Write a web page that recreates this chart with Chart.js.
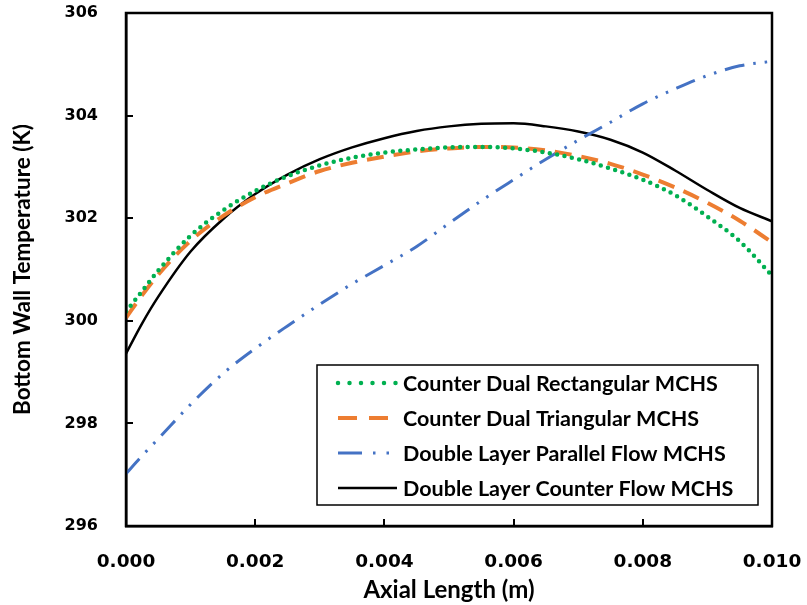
<!DOCTYPE html>
<html>
<head>
<meta charset="utf-8">
<script src="https://cdn.jsdelivr.net/npm/chart.js@4.4.1/dist/chart.umd.min.js"></script>
<style>
  html, body { margin: 0; padding: 0; background: #fff; }
  #wrap { width: 807px; height: 605px; }
</style>
</head>
<body>
<div id="wrap"><canvas id="tempChart" width="807" height="605"></canvas></div>
<script>
// axial positions (m)
const axialLength = [0, 0.00025, 0.0005, 0.001, 0.0015, 0.002, 0.0025, 0.003, 0.0035, 0.004, 0.0045,
    0.005, 0.0055, 0.006, 0.0065, 0.007, 0.0075, 0.008, 0.0085, 0.009, 0.0095, 0.010];

// bottom wall temperature (K)
const dualRect = [300.18, 300.58, 300.98, 301.66, 302.15, 302.53, 302.82, 303.03, 303.18, 303.28, 303.34,
    303.38, 303.39, 303.36, 303.28, 303.15, 302.97, 302.75, 302.45, 302.03, 301.55, 300.88];
const dualTri = [300.06, 300.5, 300.9, 301.56, 302.04, 302.41, 302.68, 302.92, 303.08, 303.2, 303.3,
    303.36, 303.39, 303.38, 303.32, 303.21, 303.06, 302.85, 302.6, 302.3, 301.95, 301.53];
const parallelFlow = [297.02, 297.37, 297.7, 298.37, 298.97, 299.46, 299.9, 300.32, 300.72, 301.08, 301.45,
    301.9, 302.34, 302.75, 303.15, 303.52, 303.87, 304.23, 304.52, 304.78, 304.97, 305.06];
const counterFlow = [299.36, 299.95, 300.47, 301.35, 301.98, 302.47, 302.85, 303.15, 303.38, 303.56, 303.7,
    303.79, 303.84, 303.85, 303.79, 303.69, 303.53, 303.28, 302.93, 302.55, 302.2, 301.94];

const seriesNames = ["Counter Dual Rectangular MCHS", "Counter Dual Triangular MCHS",
    "Double Layer Parallel Flow MCHS", "Double Layer Counter Flow MCHS"];
const xTicks = [0, 0.002, 0.004, 0.006, 0.008, 0.010];
const yTicks = [296, 298, 300, 302, 304, 306];

const pts = vals => vals.map((v, i) => ({ x: axialLength[i], y: v }));

const styles = [
    { color: "#00b050", width: 4.5, dash: [0, 7.5], legendDash: [0, 11.5], cap: "round" },
    { color: "#ed7d31", width: 4, dash: [17, 10], legendDash: [19, 12], cap: "butt" },
    { color: "#4472c4", width: 3, dash: [20, 9, 2.5, 9, 2.5, 9], legendDash: [24, 11, 2.5, 11, 2.5, 11], cap: "butt" },
    { color: "#000000", width: 2.5, dash: [], legendDash: [], cap: "butt" }
];
const allValues = [dualRect, dualTri, parallelFlow, counterFlow];

const datasets = allValues.map((vals, i) => ({
    label: seriesNames[i],
    data: pts(vals),
    showLine: true,
    borderColor: styles[i].color,
    borderWidth: styles[i].width,
    borderDash: styles[i].dash,
    borderCapStyle: styles[i].cap,
    pointRadius: 0,
    cubicInterpolationMode: "monotone",
    fill: false
}));

const frameAndLegend = {
    id: "frameAndLegend",
    afterDraw(chart) {
        const ctx = chart.ctx;
        const a = chart.chartArea;
        const xs = chart.scales.x, ys = chart.scales.y;
        ctx.save();
        // inward ticks
        ctx.strokeStyle = "#000";
        ctx.lineWidth = 2;
        xTicks.forEach(t => {
            const px = Math.round(xs.getPixelForValue(t));
            ctx.beginPath(); ctx.moveTo(px, a.bottom); ctx.lineTo(px, a.bottom - 7); ctx.stroke();
        });
        yTicks.forEach(t => {
            const py = Math.round(ys.getPixelForValue(t));
            ctx.beginPath(); ctx.moveTo(a.left, py); ctx.lineTo(a.left + 7, py); ctx.stroke();
        });
        // frame
        ctx.lineWidth = 2.5;
        ctx.strokeRect(a.left, a.top, a.right - a.left, a.bottom - a.top);

        // legend box
        const bx = a.right - 455, by = a.bottom - 161, bw = 441, bh = 140;
        ctx.fillStyle = "#fff";
        ctx.fillRect(bx, by, bw, bh);
        ctx.lineWidth = 1.5;
        ctx.strokeRect(bx, by, bw, bh);
        ctx.font = "bold 21.5px Lato";
        ctx.textBaseline = "middle";
        seriesNames.forEach((name, i) => {
            const s = styles[i];
            const ry = by + 18 + i * 35;
            ctx.strokeStyle = s.color;
            ctx.lineWidth = s.width;
            ctx.setLineDash(s.legendDash);
            ctx.lineCap = s.cap;
            ctx.beginPath(); ctx.moveTo(bx + 21, ry); ctx.lineTo(bx + 80, ry); ctx.stroke();
            ctx.setLineDash([]);
            ctx.fillStyle = "#000";
            ctx.fillText(name, bx + 86, ry + 1);
        });
        ctx.restore();
    }
};

new Chart(document.getElementById("tempChart"), {
    type: "scatter",
    data: { datasets },
    options: {
        responsive: false,
        animation: false,
        layout: { padding: { top: 13, right: 35, left: 0, bottom: 0 } },
        plugins: { legend: { display: false }, tooltip: { enabled: false } },
        scales: {
            x: {
                type: "linear",
                min: 0, max: 0.010,
                grid: { display: false },
                border: { display: true, color: "#000", width: 2.5 },
                afterBuildTicks: s => { s.ticks = xTicks.map(v => ({ value: v })); },
                afterFit: s => { s.height = 79; s.paddingLeft = 0; s.paddingRight = 0; },
                ticks: {
                    padding: 17,
                    color: "#000",
                    font: { family: "DejaVu Sans", weight: "bold", size: 18.5 },
                    callback: v => v.toFixed(3)
                },
                title: {
                    display: true,
                    text: "Axial Length (m)",
                    color: "#000",
                    padding: { top: 0, bottom: 0 },
                    font: { family: "Lato", weight: "bold", size: 24 }
                }
            },
            y: {
                min: 296, max: 306,
                grid: { display: false },
                border: { display: true, color: "#000", width: 2.5 },
                afterBuildTicks: s => { s.ticks = yTicks.map(v => ({ value: v })); },
                afterFit: s => { s.width = 126; s.paddingTop = 0; s.paddingBottom = 0; },
                ticks: {
                    padding: 20,
                    color: "#000",
                    font: { family: "DejaVu Sans", weight: "bold", size: 16 },
                    callback: v => v.toFixed(0)
                },
                title: {
                    display: true,
                    text: "Bottom Wall Temperature (K)",
                    color: "#000",
                    padding: { top: 9, bottom: 0 },
                    font: { family: "Lato", weight: "bold", size: 22.5 }
                }
            }
        }
    },
    plugins: [frameAndLegend]
});
</script>
</body>
</html>
